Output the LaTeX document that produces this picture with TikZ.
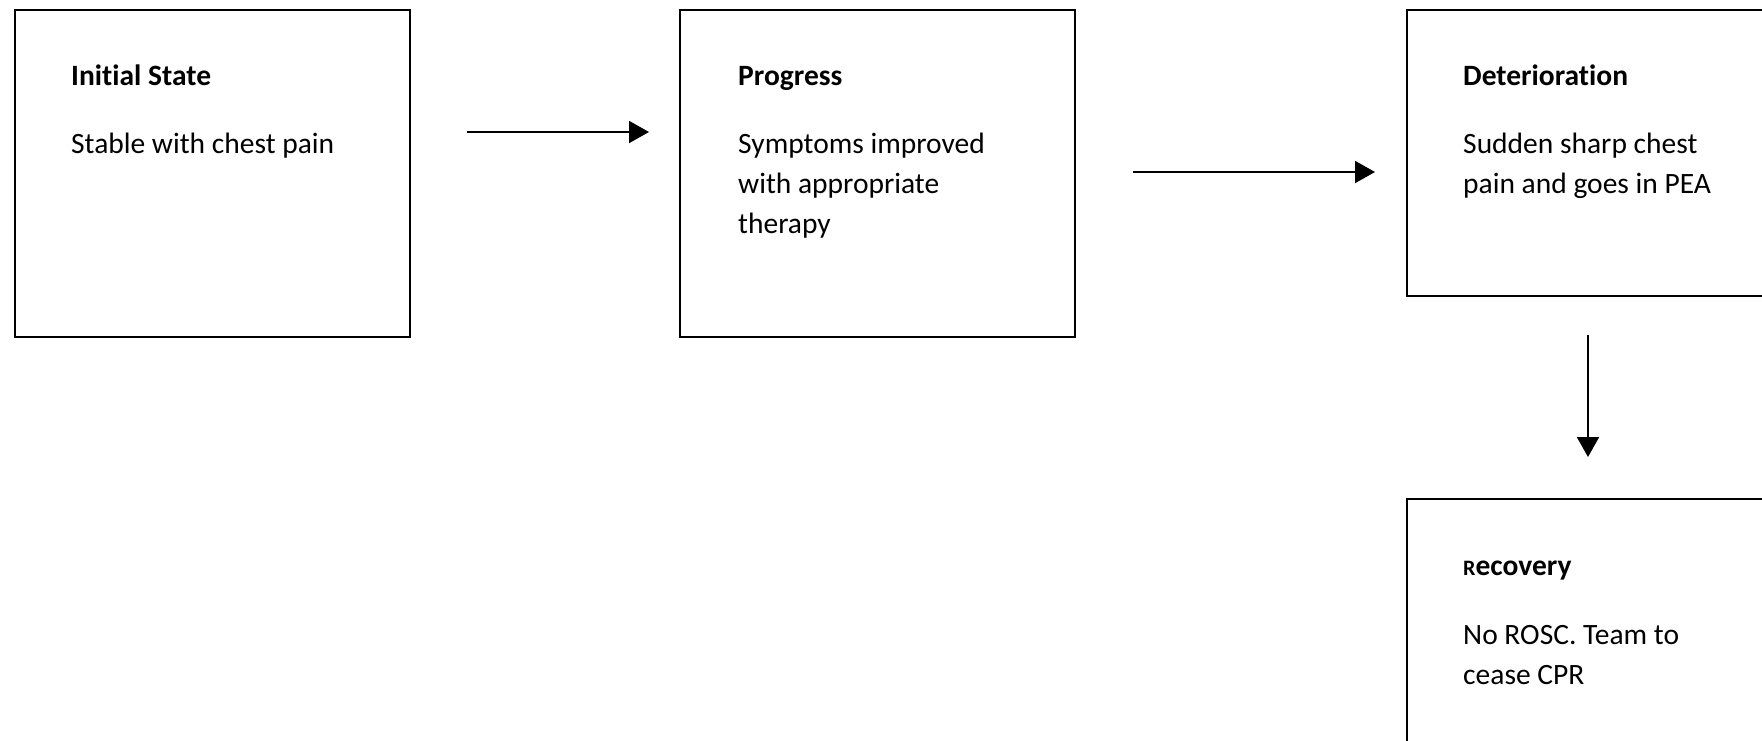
\documentclass[tikz,border=0pt]{standalone}
\usepackage{fontspec}
\setmainfont[Ligatures=NoCommon]{Carlito}
\usetikzlibrary{arrows.meta}
\begin{document}
\begin{tikzpicture}[x=1pt,y=-1pt,
  box/.style={draw=black,line width=2pt,inner sep=0pt,anchor=north west,minimum width=395pt,minimum height=327pt},
  ttl/.style={anchor=base west,inner sep=0pt,font=\fontsize{29.5}{40}\selectfont\bfseries},
  body/.style={anchor=base west,inner sep=0pt,align=left,font=\fontsize{29.5}{40}\selectfont},
  arr/.style={line width=2pt,-{Triangle[length=20pt,width=22pt]}}]
\useasboundingbox (0,0) rectangle (1762,740);
\clip (0,0) rectangle (1762,740);
\fill[white] (0,0) rectangle (1762,740);
% boxes
\node[box] (b1) at (13.5,9) {};
\node[box] (b2) at (679,9) {};
\node[box,minimum height=286pt] (b3) at (1406,9) {};
\node[box] (b4) at (1406,498) {};
% texts (base anchor = baseline of last line)
\node[ttl] (t1) at (71,85) {Initial State};
\node[body] (d1) at (71,153) {Stable with chest pain};
\node[ttl] (t2) at (738,85) {Progress};
\node[body] (d2) at (738,233) {Symptoms improved\\with appropriate\\therapy};
\node[ttl] (t3) at (1463,85) {Deterioration};
\node[body] (d3) at (1463,193) {Sudden sharp chest\\pain and goes in PEA};
\node[ttl] (t4) at (1463,575) {{\fontsize{22}{40}\selectfont R}ecovery};
\node[body] (d4) at (1463,684) {No ROSC. Team to\\cease CPR};
% arrows
\coordinate (a1s) at (467,132);
\coordinate (a1e) at (649,132);
\coordinate (a2s) at (1133,172);
\coordinate (a2e) at (1375,172);
\coordinate (a3s) at (1588,335);
\coordinate (a3e) at (1588,457);
\draw[arr] (a1s) -- (a1e);
\draw[arr] (a2s) -- (a2e);
\draw[arr] (a3s) -- (a3e);
\end{tikzpicture}
\end{document}
